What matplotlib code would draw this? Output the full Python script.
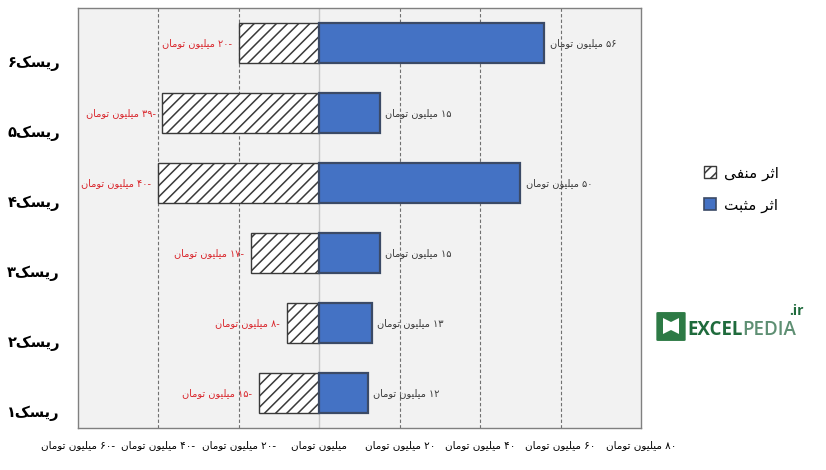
import matplotlib
matplotlib.use('Agg')
import matplotlib.pyplot as plt
import matplotlib.transforms as mtransforms
from matplotlib.patches import Patch, FancyBboxPatch, Polygon

# data
categories = ['ریسک۱', 'ریسک۲', 'ریسک۳', 'ریسک۴', 'ریسک۵', 'ریسک۶']
positive = [12, 13, 15, 50, 15, 56]
negative = [-15, -8, -17, -40, -39, -20]
xticks = [-60, -40, -20, 0, 20, 40, 60, 80]
unit = 'میلیون تومان'
legend_labels = ['اثر منفی', 'اثر مثبت']

#
# minimal Persian shaping + RTL ordering (matplotlib has no bidi)
#
FORMS = {
    '\u0627': ('\uFE8D', '\uFE8E', None, None),
    '\u0628': ('\uFE8F', '\uFE90', '\uFE91', '\uFE92'),
    '\u062A': ('\uFE95', '\uFE96', '\uFE97', '\uFE98'),
    '\u062B': ('\uFE99', '\uFE9A', '\uFE9B', '\uFE9C'),
    '\u0631': ('\uFEAD', '\uFEAE', None, None),
    '\u0633': ('\uFEB1', '\uFEB2', '\uFEB3', '\uFEB4'),
    '\u0641': ('\uFED1', '\uFED2', '\uFED3', '\uFED4'),
    '\u0644': ('\uFEDD', '\uFEDE', '\uFEDF', '\uFEE0'),
    '\u0645': ('\uFEE1', '\uFEE2', '\uFEE3', '\uFEE4'),
    '\u0646': ('\uFEE5', '\uFEE6', '\uFEE7', '\uFEE8'),
    '\u0648': ('\uFEED', '\uFEEE', None, None),
    '\u06A9': ('\uFB8E', '\uFB8F', '\uFB90', '\uFB91'),
    '\u06CC': ('\uFBFC', '\uFBFD', '\uFBFE', '\uFBFF'),
}
FA_DIGITS = '۰۱۲۳۴۵۶۷۸۹'


def shape(word):
    out = []
    for i, ch in enumerate(word):
        f = FORMS.get(ch)
        if f is None:
            out.append(ch)
            continue
        prev = FORMS.get(word[i - 1]) if i > 0 else None
        nxt = FORMS.get(word[i + 1]) if i + 1 < len(word) else None
        jp = prev is not None and prev[2] is not None
        jn = f[2] is not None and nxt is not None
        if jp and jn:
            out.append(f[3])
        elif jp:
            out.append(f[1])
        elif jn:
            out.append(f[2])
        else:
            out.append(f[0])
    return ''.join(out)


def rtl(text):
    s = shape(text)
    runs = []
    for ch in s:
        d = ch in FA_DIGITS
        if runs and runs[-1][0] == d:
            runs[-1][1] += ch
        else:
            runs.append([d, ch])
    return ''.join(r if d else r[::-1] for d, r in reversed(runs))


def money(v):
    if v == 0:
        return unit
    num = str(abs(v)).translate(str.maketrans('0123456789', FA_DIGITS))
    return ('-' if v < 0 else '') + num + ' ' + unit


plt.rcParams['font.family'] = ['DejaVu Sans']
plt.rcParams['hatch.linewidth'] = 1.1

fig = plt.figure(figsize=(8.26, 4.70), dpi=100)
ax = fig.add_axes([78 / 826, 1 - 428 / 470, 563 / 826, 420 / 470])
ax.set_facecolor('#F2F2F2')

ypos = list(range(len(categories)))
bh = 0.571

#
# grid
#
for x in xticks[1:-1]:
    if x == 0:
        ax.axvline(x, color='#C8C8C8', lw=1.0, zorder=1)
    else:
        ax.axvline(x, color='#707070', lw=0.8, ls=(0, (3, 2)), zorder=1)

#
# bars
#
ax.barh(ypos, negative, height=bh, color='white', edgecolor='#3A3A3A',
        hatch='///', lw=1.0, zorder=3)
ax.barh(ypos, positive, height=bh, color='#4472C4', edgecolor='#3B4A66',
        lw=1.6, zorder=3)

for y, v in zip(ypos, positive):
    ax.annotate(rtl(money(v)), xy=(v, y), xytext=(4, 0),
                textcoords='offset points', ha='left', va='center',
                fontsize=7, color='#3A3A3A')
for y, v in zip(ypos, negative):
    ax.annotate(rtl(money(v)), xy=(v, y), xytext=(-5, 0),
                textcoords='offset points', ha='right', va='center',
                fontsize=7, color='#D9262C')

ax.set_xlim(-60, 80)
ax.set_ylim(-0.5, len(categories) - 0.5)
ax.set_xticks(xticks)
ax.set_xticklabels([rtl(money(v)) for v in xticks], fontsize=7.5,
                   color='black')
ax.set_yticks(ypos)
ax.set_yticklabels([rtl(c) for c in categories], fontsize=10.5,
                   fontweight='bold')
ax.tick_params(axis='both', length=0)
ax.tick_params(axis='x', pad=9)
ax.tick_params(axis='y', pad=13)
shift = mtransforms.ScaledTranslation(0, -18 / 100, fig.dpi_scale_trans)
for lab in ax.get_yticklabels():
    lab.set_transform(lab.get_transform() + shift)
for sp in ax.spines.values():
    sp.set_color('#808080')
    sp.set_linewidth(1.0)

#
# legend
#
handles = [Patch(facecolor='white', edgecolor='#3A3A3A', hatch='///'),
           Patch(facecolor='#4472C4', edgecolor='#3B4A66', lw=1.2)]
fig.legend(handles, [rtl(l) for l in legend_labels], loc='center left',
           bbox_to_anchor=(690 / 826, 1 - 189 / 470), frameon=False,
           fontsize=11, handlelength=0.8, handleheight=0.8,
           labelspacing=1.1, handletextpad=0.5)

#
# logo
#
icon = FancyBboxPatch((658 / 826, 1 - 340 / 470), 26 / 826, 27 / 470,
                      boxstyle='round,pad=0.002', transform=fig.transFigure,
                      facecolor='#2D7A45', edgecolor='none')
fig.add_artist(icon)
book = Polygon([(663 / 826, 1 - 318 / 470), (671 / 826, 1 - 322 / 470),
                (679 / 826, 1 - 318 / 470), (679 / 826, 1 - 334 / 470),
                (671 / 826, 1 - 330 / 470), (663 / 826, 1 - 334 / 470)],
               closed=True, transform=fig.transFigure, facecolor='white',
               edgecolor='none')
fig.add_artist(book)
t1 = fig.text(687 / 826, 1 - 335 / 470, 'EXCEL', fontsize=13.5,
              fontweight='bold', color='#1F6B3C', family='Open Sans',
              ha='left', va='baseline')
ax.annotate('PEDIA', xy=(1, 0), xycoords=t1, ha='left', va='bottom',
            fontsize=13.5, fontweight='semibold', color='#5E8F73',
            family='Open Sans', annotation_clip=False)
fig.text(789 / 826, 1 - 315 / 470, '.ir', fontsize=10, fontweight='bold',
         color='#1F6B3C', family='Open Sans', ha='left', va='baseline')

fig.savefig('out.png', dpi=100)
